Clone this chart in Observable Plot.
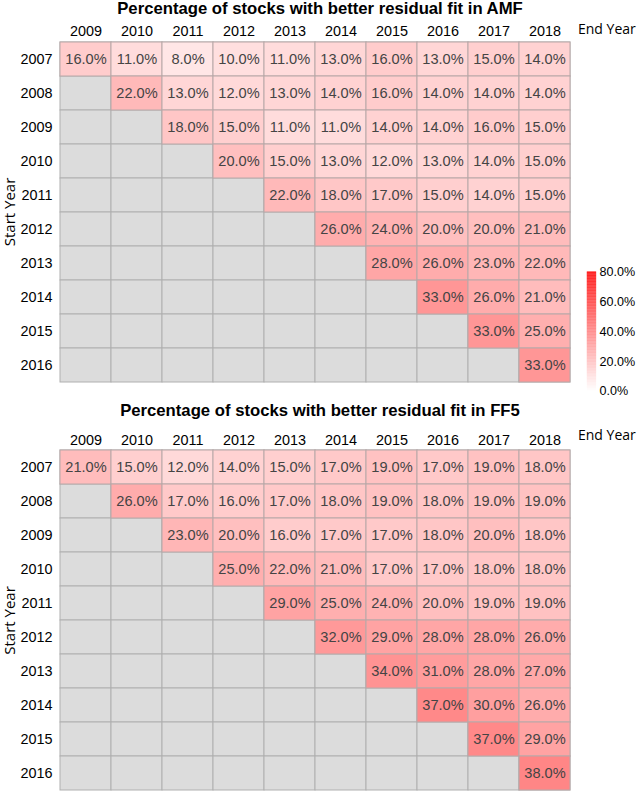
<!DOCTYPE html>
<html>
<head>
<meta charset="utf-8">
<script src="https://cdn.jsdelivr.net/npm/d3@7"></script>
<script src="https://cdn.jsdelivr.net/npm/@observablehq/plot@0.6"></script>
<style>
  html, body { margin: 0; padding: 0; background: #fff; }
  #root { position: relative; width: 640px; height: 792px; overflow: hidden; font-family: "Liberation Sans", Arial, sans-serif; }
  .title { position: absolute; left: 0; width: 640px; text-align: center; font-weight: bold; font-size: 16.7px; line-height: 20px; color: #000; }
  .endlab { position: absolute; left: 578px; font-family: "Open Sans", sans-serif; font-size: 14px; line-height: 18px; color: #000; }
  .abs { position: absolute; left: 0; }
</style>
</head>
<body>
<div id="root"></div>
<script>
const startYears = [2007, 2008, 2009, 2010, 2011, 2012, 2013, 2014, 2015, 2016];
const endYears = [2009, 2010, 2011, 2012, 2013, 2014, 2015, 2016, 2017, 2018];

// Percent values, rows = start year, columns = end year (null = no window)
const amfValues = [
  [16, 11, 8, 10, 11, 13, 16, 13, 15, 14],
  [null, 22, 13, 12, 13, 14, 16, 14, 14, 14],
  [null, null, 18, 15, 11, 11, 14, 14, 16, 15],
  [null, null, null, 20, 15, 13, 12, 13, 14, 15],
  [null, null, null, null, 22, 18, 17, 15, 14, 15],
  [null, null, null, null, null, 26, 24, 20, 20, 21],
  [null, null, null, null, null, null, 28, 26, 23, 22],
  [null, null, null, null, null, null, null, 33, 26, 21],
  [null, null, null, null, null, null, null, null, 33, 25],
  [null, null, null, null, null, null, null, null, null, 33]
];
const ff5Values = [
  [21, 15, 12, 14, 15, 17, 19, 17, 19, 18],
  [null, 26, 17, 16, 17, 18, 19, 18, 19, 19],
  [null, null, 23, 20, 16, 17, 17, 18, 20, 18],
  [null, null, null, 25, 22, 21, 17, 17, 18, 18],
  [null, null, null, null, 29, 25, 24, 20, 19, 19],
  [null, null, null, null, null, 32, 29, 28, 28, 26],
  [null, null, null, null, null, null, 34, 31, 28, 27],
  [null, null, null, null, null, null, null, 37, 30, 26],
  [null, null, null, null, null, null, null, null, 37, 29],
  [null, null, null, null, null, null, null, null, null, 38]
];
const legendTicks = [0, 0.2, 0.4, 0.6, 0.8];

const colorScale = {type: "linear", domain: [0, 0.8], range: ["#ffffff", "#ff0000"], interpolate: "rgb"};

function table(values) {
  const rows = [];
  startYears.forEach((s, i) => endYears.forEach((e, j) => {
    rows.push({start: String(s), end: String(e), value: values[i][j] == null ? null : values[i][j] / 100});
  }));
  return rows;
}

function heatmap(values, height, marginTop) {
  const data = table(values);
  const svg = Plot.plot({
    width: 640,
    height,
    marginTop,
    marginBottom: 1,
    marginLeft: 58,
    marginRight: 68,
    style: {fontFamily: '"Liberation Sans", Arial, sans-serif', fontSize: "14.4px", background: "transparent", color: "#000"},
    x: {domain: endYears.map(String), axis: "top", tickSize: 0, tickPadding: 5, label: null, padding: 0},
    y: {domain: startYears.map(String), tickSize: 0, tickPadding: 6, label: "Start Year", labelAnchor: "center", labelOffset: 54, padding: 0},
    color: colorScale,
    marks: [
      Plot.cell(data, {x: "end", y: "start", fill: "#dcdcdc", stroke: "#b0b0b0", strokeWidth: 1, inset: 0}),
      Plot.cell(data.filter(d => d.value != null), {x: "end", y: "start", fill: "value", stroke: "#b8a8a8", strokeWidth: 1, inset: 0}),
      Plot.text(data.filter(d => d.value != null), {x: "end", y: "start", text: d => d3.format(".1%")(d.value), fill: "#444444", fontSize: 14.6})
    ]
  });
  const lab = svg.querySelector('g[aria-label="y-axis label"]');
  if (lab) {
    lab.setAttribute("font-size", "15");
    lab.style.fontSize = "15px";
    lab.style.fontFamily = '"Open Sans", sans-serif';
  }
  return svg;
}

const root = document.getElementById("root");

function addTitle(text, top) {
  const d = document.createElement("div");
  d.className = "title";
  d.style.top = top + "px";
  d.textContent = text;
  root.appendChild(d);
}
function addEnd(top) {
  const d = document.createElement("div");
  d.className = "endlab";
  d.style.top = top + "px";
  d.textContent = "End Year";
  root.appendChild(d);
}
function addAbs(el, top, left) {
  const w = document.createElement("div");
  w.className = "abs";
  w.style.top = top + "px";
  w.style.left = (left || 0) + "px";
  w.appendChild(el);
  root.appendChild(w);
}

// Top panel
addAbs(heatmap(amfValues, 366, 22), 18);
addTitle("Percentage of stocks with better residual fit in AMF", -1);
addEnd(20);

// Bottom panel
addAbs(heatmap(ff5Values, 370, 27), 422);
addTitle("Percentage of stocks with better residual fit in FF5", 401);
addEnd(426);

// Vertical colour legend
const ramp = d3.range(0, 0.8, 0.005);
const legend = Plot.plot({
  width: 60,
  height: 146,
  marginTop: 8,
  marginBottom: 10,
  marginLeft: 3,
  marginRight: 47,
  style: {fontFamily: '"Liberation Sans", Arial, sans-serif', fontSize: "13.5px", background: "transparent", color: "#000"},
  x: {axis: null, domain: [0, 1]},
  y: {domain: [0, 0.8], axis: "right", ticks: legendTicks, tickFormat: ".1%", tickSize: 0, tickPadding: 3, label: null},
  color: colorScale,
  marks: [
    Plot.rect(ramp, {x1: 0, x2: 1, y1: d => d, y2: d => Math.min(0.8, d + 0.0055), fill: d => d + 0.0025})
  ]
});
addAbs(legend, 264, 584);
</script>
</body>
</html>
